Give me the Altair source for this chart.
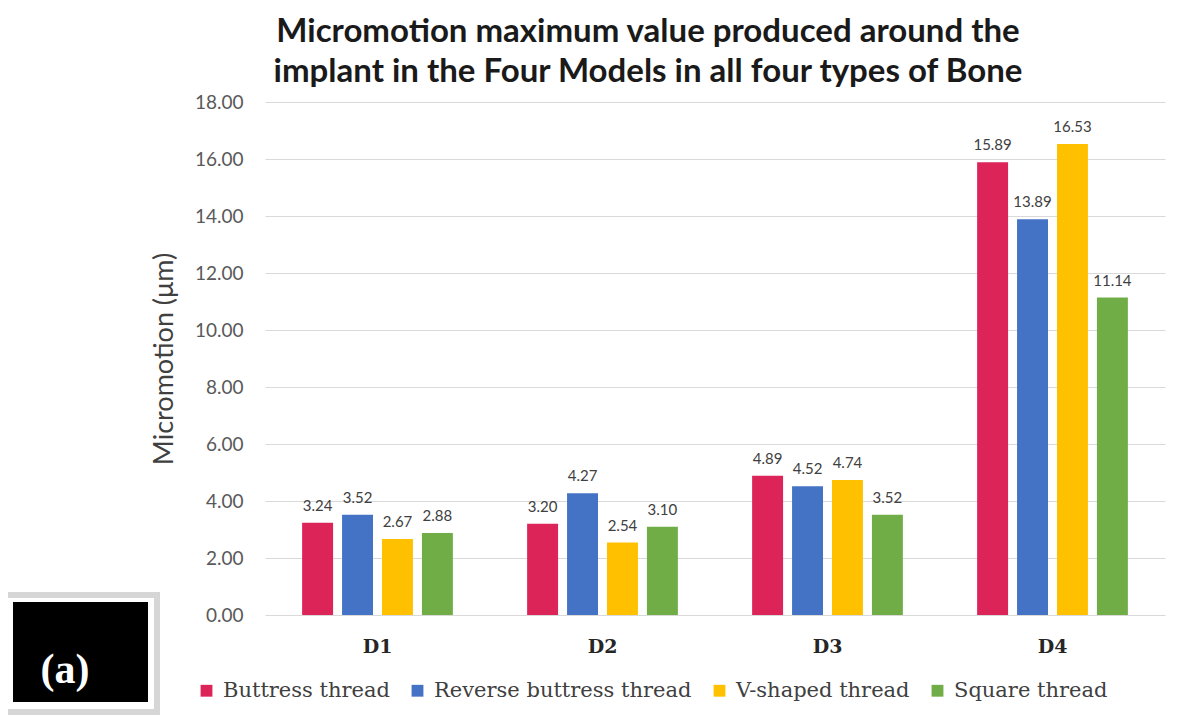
import altair as alt
import pandas as pd

categories = ["D1", "D2", "D3", "D4"]
series = ["Buttress thread", "Reverse buttress thread", "V-shaped thread", "Square thread"]
values = {
    "Buttress thread": [3.24, 3.20, 4.89, 15.89],
    "Reverse buttress thread": [3.52, 4.27, 4.52, 13.89],
    "V-shaped thread": [2.67, 2.54, 4.74, 16.53],
    "Square thread": [2.88, 3.10, 3.52, 11.14],
}
colors = ["#DC2458", "#4472C4", "#FFC000", "#70AD47"]
y_ticks = [0, 2, 4, 6, 8, 10, 12, 14, 16, 18]

rows = []
for s in series:
    for c, v in zip(categories, values[s]):
        rows.append({"Bone": c, "Thread": s, "Value": v})
df = pd.DataFrame(rows)

x = alt.X("Bone:N", sort=categories, title=None,
          scale=alt.Scale(paddingInner=0.33, paddingOuter=0.165),
          axis=alt.Axis(labelAngle=0, labelFont="DejaVu Serif", labelFontWeight="bold",
                        labelFontSize=19, labelColor="#262626", ticks=False, domain=False,
                        labelPadding=31, labelBaseline="middle"))
xo = alt.XOffset("Thread:N", sort=series, scale=alt.Scale(paddingInner=0.225, paddingOuter=0))
y = alt.Y("Value:Q", title="Micromotion (μm)",
          scale=alt.Scale(domain=[0, 18], nice=False),
          axis=alt.Axis(values=y_ticks, format=".2f", labelFont="Lato", labelFontSize=19,
                        labelColor="#595959", labelPadding=22, ticks=False, domain=False,
                        gridColor="#D9D9D9", gridWidth=1.2,
                        titleFont="Lato", titleFontSize=27, titleFontWeight="normal",
                        titleColor="#404040", titlePadding=16))

bars = alt.Chart(df).mark_bar().encode(
    x=x, xOffset=xo, y=y,
    color=alt.Color("Thread:N", sort=series, title=None,
                    scale=alt.Scale(domain=series, range=colors),
                    legend=alt.Legend(orient="none", legendX=-69, legendY=578, direction="horizontal",
                                      symbolType="square", symbolSize=140, symbolStrokeWidth=0,
                                      labelFont="DejaVu Serif", labelFontSize=21,
                                      labelColor="#404040", columnPadding=17, labelOffset=6,
                                      labelLimit=400)),
)

labels = alt.Chart(df).mark_text(baseline="bottom", dy=-9, font="Lato", fontSize=15,
                                 color="#404040").encode(
    x=x, xOffset=xo, y=alt.Y("Value:Q"),
    text=alt.Text("Value:Q", format=".2f"),
)

box_frame = alt.Chart(pd.DataFrame({"k": [0]})).mark_rect(
    fill="#FFFFFF", stroke="#D6D6D6", strokeWidth=6).encode(
    x=alt.value(-261), x2=alt.value(-108), y=alt.value(493), y2=alt.value(610))
box = alt.Chart(pd.DataFrame({"k": [0]})).mark_rect(fill="#000000").encode(
    x=alt.value(-252), x2=alt.value(-117), y=alt.value(500), y2=alt.value(600))
box_text = alt.Chart(pd.DataFrame({"t": ["(a)"]})).mark_text(
    font="Liberation Serif", fontWeight="bold", fontSize=42, color="#FFFFFF",
    align="center", baseline="middle").encode(
    x=alt.value(-200), y=alt.value(568), text="t:N")

chart = alt.layer(bars, labels, box_frame, box, box_text).properties(
    width=900, height=513,
    autosize=alt.AutoSizeParams(type="none"),
    padding={"left": 257, "top": 94, "right": 27, "bottom": 100},
    title=alt.TitleParams(
        ["Micromotion maximum value produced around the",
         "implant in the Four Models in all four types of Bone"],
        font="Lato", fontSize=33, fontWeight="bold", color="#1a1a1a",
        anchor="middle", dx=-67, offset=4, lineHeight=40),
).configure_view(stroke=None)

chart.save("out.html", embed_options={"renderer": "svg", "actions": False})
